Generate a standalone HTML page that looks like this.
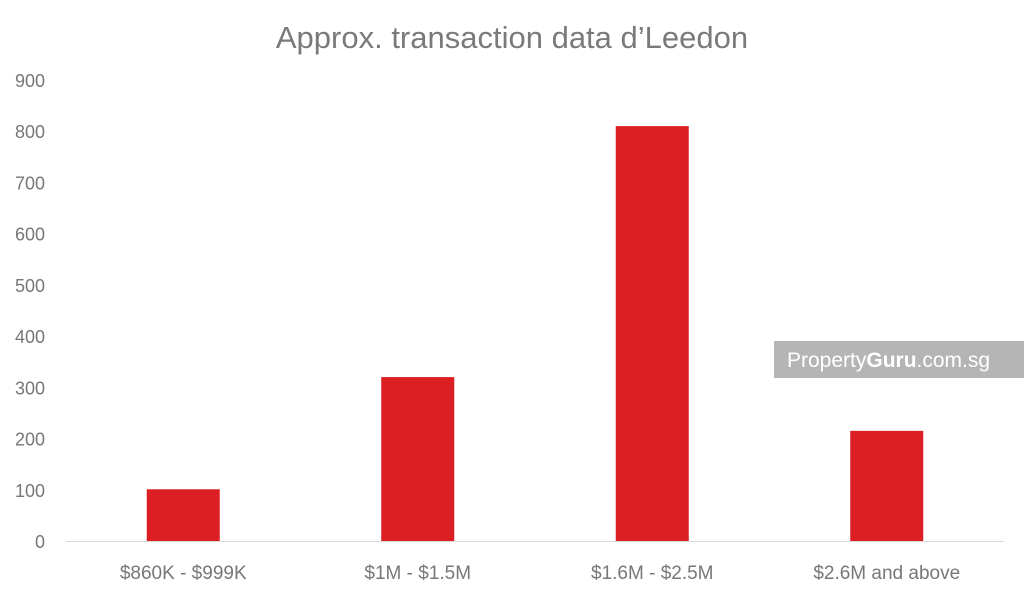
<!DOCTYPE html>
<html><head><meta charset="utf-8"><style>
html,body{margin:0;padding:0;background:#fff;}
body{width:1024px;height:594px;overflow:hidden;font-family:"Liberation Sans",sans-serif;}
</style></head><body>
<svg id="chart" width="1024" height="594" xmlns="http://www.w3.org/2000/svg">
<text x="512" y="48" text-anchor="middle" font-size="31" fill="#7a7a7a" font-family="Liberation Sans, sans-serif">Approx. transaction data d’Leedon</text>
<g id="yaxis"></g>
<g id="xaxis"></g>
<g id="bars"></g>
<g>
<rect x="774" y="341" width="250" height="37" fill="#b5b5b5"/>
<text x="787" y="367" font-size="21" fill="#fff" font-family="Liberation Sans, sans-serif">Property<tspan font-weight="bold">Guru</tspan>.com.sg</text>
</g>
</svg>
<script>
const categories = ["$860K - $999K", "$1M - $1.5M", "$1.6M - $2.5M", "$2.6M and above"];
const values = [101, 320, 810, 215];
const yTicks = [0, 100, 200, 300, 400, 500, 600, 700, 800, 900];
const NS = "http://www.w3.org/2000/svg";
const x0 = 66, x1 = 1004, yBase = 541, yTop = 80, yMax = 900;
const yScale = v => yBase - (v / yMax) * (yBase - yTop);
const band = (x1 - x0) / categories.length;
const xCenter = i => x0 + band * (i + 0.5);
const barW = 73;
const yaxis = document.getElementById('yaxis');
yTicks.forEach(t => {
  const tx = document.createElementNS(NS, 'text');
  tx.setAttribute('x', 45); tx.setAttribute('y', yScale(t) + 7);
  tx.setAttribute('text-anchor', 'end'); tx.setAttribute('font-size', '18');
  tx.setAttribute('fill', '#777');
  tx.textContent = t;
  
  
  yaxis.appendChild(tx);
});
const xaxis = document.getElementById('xaxis');
const ln = document.createElementNS(NS, 'line');
ln.setAttribute('x1', x0); ln.setAttribute('x2', x1);
ln.setAttribute('y1', yBase + 0.5); ln.setAttribute('y2', yBase + 0.5);
ln.setAttribute('stroke', '#d9d9d9');


xaxis.appendChild(ln);
const bars = document.getElementById('bars');
categories.forEach((c, i) => {
  const r = document.createElementNS(NS, 'rect');
  r.setAttribute('x', xCenter(i) - barW / 2);
  r.setAttribute('y', yScale(values[i]));
  r.setAttribute('width', barW);
  r.setAttribute('height', yBase - yScale(values[i]));
  r.setAttribute('fill', '#dc1f22');
  
  
  bars.appendChild(r);
  const tx = document.createElementNS(NS, 'text');
  tx.setAttribute('x', xCenter(i)); tx.setAttribute('y', 579);
  tx.setAttribute('text-anchor', 'middle'); tx.setAttribute('font-size', '19');
  tx.setAttribute('fill', '#777');
  tx.textContent = c;
  
  
  xaxis.appendChild(tx);
});
</script>
</body></html>
